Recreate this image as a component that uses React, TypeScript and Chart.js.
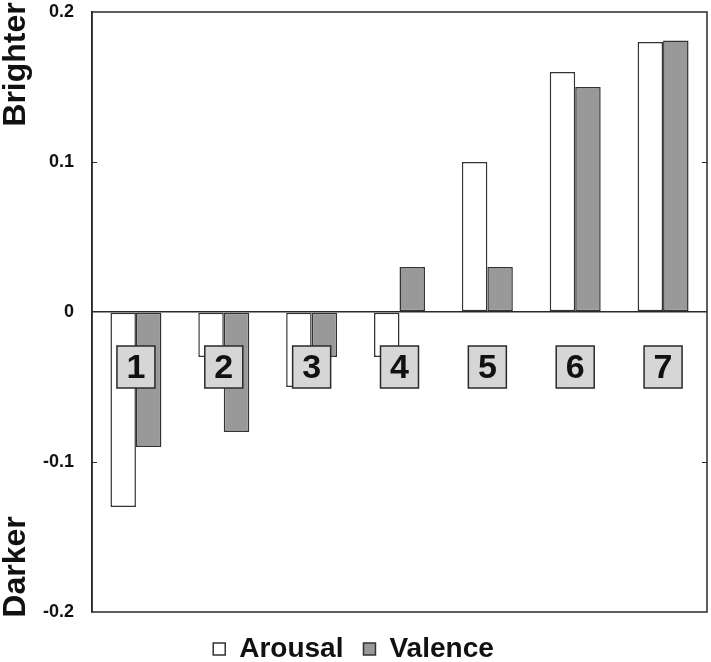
import React, { useEffect, useRef } from "react";
import { Chart, registerables } from "chart.js";

Chart.register(...registerables);

const categories = ["1", "2", "3", "4", "5", "6", "7"];
const seriesNames = ["Arousal", "Valence"];
const arousal = [-0.13, -0.03, -0.05, -0.03, 0.1, 0.16, 0.18];
const valence = [-0.09, -0.08, -0.03, 0.03, 0.03, 0.15, 0.181];
const yTicks = [-0.2, -0.1, 0, 0.1, 0.2];
const yTickLabels = ["-0.2", "-0.1", "0", "0.1", "0.2"];
const innerTicks = [0.1, -0.1];
const sideTitles = ["Brighter", "Darker"];

const FONT = '"Liberation Sans", Arial, Helvetica, sans-serif';
const DARK = "#2a2a2a";

const decorPlugin = {
  id: "decor",
  afterDatasetsDraw(chart: any) {
    const { ctx, chartArea, scales } = chart;
    const x = scales.x;
    const y = scales.y;
    ctx.save();
    ctx.strokeStyle = DARK;
    ctx.lineWidth = 1.5;
    ctx.strokeRect(chartArea.left, chartArea.top, chartArea.right - chartArea.left, chartArea.bottom - chartArea.top);
    ctx.lineWidth = 1.2;
    innerTicks.forEach((v) => {
      const py = Math.round(y.getPixelForValue(v)) + 0.5;
      ctx.beginPath();
      ctx.moveTo(chartArea.left, py);
      ctx.lineTo(chartArea.left + 5, py);
      ctx.moveTo(chartArea.right, py);
      ctx.lineTo(chartArea.right - 5, py);
      ctx.stroke();
    });
    const zero = y.getPixelForValue(0);
    categories.forEach((c, i) => {
      const cx = x.getPixelForValue(i);
      const cy = zero + 55;
      const w = 38, h = 42;
      ctx.fillStyle = "#d6d6d6";
      ctx.fillRect(cx - w / 2, cy - h / 2, w, h);
      ctx.strokeStyle = DARK;
      ctx.lineWidth = 1.5;
      ctx.strokeRect(cx - w / 2, cy - h / 2, w, h);
      ctx.fillStyle = "#111";
      ctx.font = `bold 34px ${FONT}`;
      ctx.textAlign = "center";
      ctx.textBaseline = "middle";
      ctx.fillText(c, cx, cy + 2);
    });
    ctx.restore();
  },
  afterDraw(chart: any) {
    const { ctx, scales } = chart;
    const y = scales.y;
    ctx.save();
    ctx.fillStyle = "#111";
    ctx.font = `bold 32px ${FONT}`;
    ctx.textAlign = "center";
    ctx.textBaseline = "middle";
    const pos = [y.getPixelForValue(0.165), y.getPixelForValue(-0.17)];
    sideTitles.forEach((t, i) => {
      ctx.save();
      ctx.translate(16, pos[i]);
      ctx.rotate(-Math.PI / 2);
      ctx.fillText(t, 0, 0);
      ctx.restore();
    });
    ctx.restore();
  },
};

export default function App() {
  const ref = useRef<HTMLCanvasElement>(null);
  useEffect(() => {
    if (!ref.current) return;
    const chart = new Chart(ref.current, {
      type: "bar",
      data: {
        labels: categories,
        datasets: [
          {
            label: seriesNames[0],
            data: arousal,
            backgroundColor: "#ffffff",
            borderColor: "#333333",
            borderWidth: 1.5,
            borderSkipped: false,
          },
          {
            label: seriesNames[1],
            data: valence,
            backgroundColor: "#999999",
            borderColor: "#333333",
            borderWidth: 1.5,
            borderSkipped: false,
          },
        ],
      },
      options: {
        responsive: false,
        animation: false,
        layout: { padding: { top: 12, right: 4, left: 0, bottom: -11 } },
        datasets: { bar: { categoryPercentage: 0.58, barPercentage: 1.0 } },
        plugins: {
          tooltip: { enabled: false },
          legend: {
            position: "bottom",
            labels: {
              color: "#111",
              font: { family: FONT, size: 28, weight: "bold" },
              boxWidth: 12,
              boxHeight: 12,
              padding: 20,
            },
          },
        },
        scales: {
          x: {
            display: true,
            ticks: { display: false },
            grid: { display: false, drawTicks: false },
            border: { display: false },
            afterFit: (s: any) => {
              s.height = 3;
              s.paddingLeft = 0;
              s.paddingRight = 0;
            },
          },
          y: {
            min: -0.2,
            max: 0.2,
            afterFit: (s: any) => {
              s.width = 92;
              s.paddingTop = 0;
              s.paddingBottom = 0;
            },
            afterBuildTicks: (s: any) => {
              s.ticks = yTicks.map((v) => ({ value: v }));
            },
            ticks: {
              padding: 18,
              color: "#111",
              font: { family: FONT, size: 18, weight: "bold" },
              callback: (v: any) => {
                const i = yTicks.findIndex((t) => Math.abs(t - Number(v)) < 1e-9);
                return i >= 0 ? yTickLabels[i] : "";
              },
            },
            border: { display: true, color: DARK, width: 1.5 },
            grid: {
              drawTicks: false,
              color: (c: any) => (c.tick && Math.abs(c.tick.value) < 1e-9 ? DARK : "rgba(0,0,0,0)"),
              lineWidth: 1.5,
            },
          },
        },
      },
      plugins: [decorPlugin],
    });
    return () => chart.destroy();
  }, []);
  return (
    <div style={{ position: "absolute", left: 0, top: 0, width: 711, height: 662, background: "#fff" }}>
      <canvas ref={ref} width={711} height={662} />
    </div>
  );
}
